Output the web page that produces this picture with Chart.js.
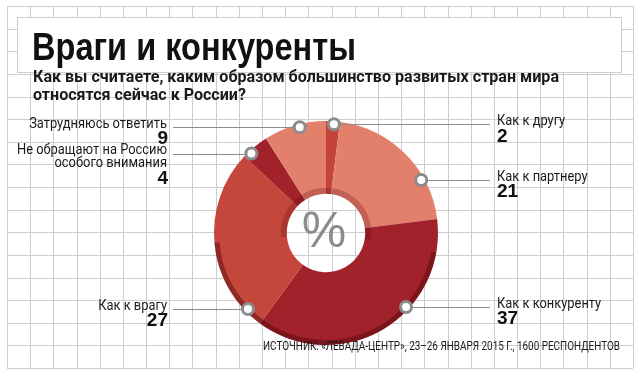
<!DOCTYPE html>
<html lang="ru">
<head>
<meta charset="utf-8">
<title>Враги и конкуренты</title>
<script src="https://cdn.jsdelivr.net/npm/chart.js@4.4.1/dist/chart.umd.min.js"></script>
<style>
  html, body { margin: 0; padding: 0; background: #fff; }
  #wrap { width: 640px; height: 374px; }
</style>
</head>
<body>
<div id="wrap"><canvas id="chart" width="640" height="374"></canvas></div>
<script>
(function () {
  'use strict';

  // ----------------------------------------------------------
  // Données (lecture du graphique, clockwise depuis 12h)
  // ----------------------------------------------------------
  const categories = [
    'Как к другу',
    'Как к партнеру',
    'Как к конкуренту',
    'Как к врагу',
    'Не обращают на Россию\nособого внимания',
    'Затрудняюсь ответить',
  ];
  const shares = [2, 21, 37, 27, 4, 9];

  const titleText    = 'Враги и конкуренты';
  const subtitleText = [
    'Как вы считаете, каким образом большинство развитых стран мира',
    'относятся сейчас к России?',
  ];
  const sourceText = 'ИСТОЧНИК: «ЛЕВАДА-ЦЕНТР», 23–26 ЯНВАРЯ 2015 Г., 1600 РЕСПОНДЕНТОВ';

  // ----------------------------------------------------------
  // Styles
  // ----------------------------------------------------------
  const sliceColors = ['#c4433a', '#e3806c', '#a2222b', '#c5473c', '#a2222b', '#e3806c'];
  const markerAt    = [0.58, 0.71, 0.375, 0.10, 0.25, 0.57]; // where the callout dot sits along each slice
  const GRAY        = '#8c8c8c';
  const GRID        = '#cdcdcd';

  // ----------------------------------------------------------
  // Texte condensé
  // ----------------------------------------------------------
  function fitScale(ctx, text, font, width) {
    ctx.save();
    ctx.font = font;
    const w = ctx.measureText(text).width;
    ctx.restore();
    return w ? width / w : 1;
  }

  function drawText(ctx, text, x, y, font, color, align, sx, baseline) {
    ctx.save();
    ctx.font         = font;
    ctx.fillStyle    = color;
    ctx.textAlign    = align;
    ctx.textBaseline = baseline || 'middle';
    ctx.translate(x, y);
    ctx.scale(sx, 1);
    ctx.fillText(text, 0, 0);
    ctx.restore();
  }

  // ----------------------------------------------------------
  // Papier quadrillé + cadre du titre
  // ----------------------------------------------------------
  const paper = {
    id: 'paper',
    beforeDraw(chart) {
      const ctx = chart.ctx;
      ctx.save();
      ctx.fillStyle = '#fff';
      ctx.fillRect(0, 0, chart.width, chart.height);

      const x0 = 7, x1 = 633, y0 = 6, y1 = 368;
      const cols = 27, rows = 16;
      ctx.strokeStyle = GRID;
      ctx.lineWidth   = 1;
      ctx.beginPath();
      for (let i = 0; i <= cols; i++) {
        const x = Math.round(x0 + i * (x1 - x0) / cols) + 0.5;
        ctx.moveTo(x, y0);
        ctx.lineTo(x, y1);
      }
      for (let j = 0; j <= rows; j++) {
        const y = Math.round(y0 + j * (y1 - y0) / rows) + 0.5;
        ctx.moveTo(x0, y);
        ctx.lineTo(x1, y);
      }
      ctx.stroke();

      // cadre blanc du titre
      ctx.fillStyle = '#fff';
      ctx.fillRect(17, 17, 604, 55);
      ctx.strokeStyle = GRID;
      ctx.strokeRect(17.5, 17.5, 604, 55);
      ctx.restore();
    },
    afterDraw(chart) {
      const ctx = chart.ctx;

      const tFont = 'bold 38px "Liberation Sans", Arial, sans-serif';
      drawText(ctx, titleText, 32, 60, tFont, '#111', 'left',
        fitScale(ctx, titleText, tFont, 324), 'alphabetic');

      const sFont = 'bold 16px Roboto, "Liberation Sans", sans-serif';
      const sScale = fitScale(ctx, subtitleText[0], sFont, 526);
      subtitleText.forEach((line, k) => {
        drawText(ctx, line, 33, 78 + k * 18, sFont, '#1a1a1a', 'left', sScale);
      });

      const fFont = '12px Roboto, "Liberation Sans", sans-serif';
      drawText(ctx, sourceText, 620, 347, fFont, '#1a1a1a', 'right',
        fitScale(ctx, sourceText, fFont, 357));
    },
  };

  // ----------------------------------------------------------
  // Relief, %, bulles et légendes
  // ----------------------------------------------------------
  const callouts = {
    id: 'callouts',
    afterDatasetsDraw(chart) {
      const ctx  = chart.ctx;
      const arcs = chart.getDatasetMeta(0).data;
      if (!arcs.length) return;

      const c  = arcs[0].getProps(['x', 'y', 'innerRadius', 'outerRadius'], true);
      const deg = Math.PI / 180;

      // relief : bord bas plus sombre + paroi intérieure
      ctx.save();
      ctx.lineWidth   = 5;
      ctx.strokeStyle = 'rgba(80, 5, 12, 0.45)';
      ctx.beginPath();
      ctx.arc(c.x, c.y, c.outerRadius - 2.5, 10 * deg, 175 * deg);
      ctx.stroke();
      ctx.lineWidth   = 6;
      ctx.strokeStyle = 'rgba(90, 5, 15, 0.25)';
      ctx.beginPath();
      ctx.arc(c.x, c.y, c.innerRadius + 3, 175 * deg, 370 * deg);
      ctx.stroke();
      ctx.restore();

      // signe % au centre
      drawText(ctx, '%', c.x - 2, c.y, '50px "Liberation Sans", Arial, sans-serif', GRAY, 'center', 1);

      const nameFont = '15px Roboto, "Liberation Sans", sans-serif';
      const numFont  = 'bold 19px "Liberation Sans", Arial, sans-serif';
      const nameScale = fitScale(ctx, 'Не обращают на Россию', nameFont, 150);

      arcs.forEach((arc, i) => {
        const p = arc.getProps(['x', 'y', 'startAngle', 'endAngle', 'outerRadius'], true);
        const a  = p.startAngle + markerAt[i] * (p.endAngle - p.startAngle);
        const mx = p.x + Math.cos(a) * (p.outerRadius - 3);
        const my = p.y + Math.sin(a) * (p.outerRadius - 3);
        const right = mx >= p.x;

        // trait de rappel
        ctx.save();
        ctx.strokeStyle = GRAY;
        ctx.lineWidth   = 1;
        ctx.beginPath();
        const ly = Math.round(my) + 0.5;
        ctx.moveTo(right ? mx : 173, ly);
        ctx.lineTo(right ? 490 : mx, ly);
        ctx.stroke();

        // pastille
        ctx.beginPath();
        ctx.arc(mx, my, 5.5, 0, 2 * Math.PI);
        ctx.fillStyle = '#fff';
        ctx.fill();
        ctx.lineWidth   = 3;
        ctx.strokeStyle = GRAY;
        ctx.stroke();
        ctx.restore();

        // libellé + valeur
        const lines = chart.data.labels[i].split('\n');
        const tx    = right ? 497 : 167;
        const align = right ? 'left' : 'right';
        let ty = my - 3;
        lines.forEach((line, k) => {
          drawText(ctx, line, tx, ty + k * 13, nameFont, '#1a1a1a', align, nameScale);
        });
        ty += (lines.length - 1) * 13 + 15;
        drawText(ctx, String(chart.data.datasets[0].data[i]), right ? 497 : 168, ty,
          numFont, '#111', align, 1);
      });
    },
  };

  // ----------------------------------------------------------
  // Graphique
  // ----------------------------------------------------------
  new Chart(document.getElementById('chart'), {
    type: 'doughnut',
    data: {
      labels: categories,
      datasets: [{
        data:            shares,
        backgroundColor: sliceColors,
        borderWidth:     0,
        hoverOffset:     0,
      }],
    },
    options: {
      responsive:       false,
      animation:        false,
      devicePixelRatio: 1,
      cutout:           '35%',
      rotation:         0,
      layout: {
        padding: { left: 214, right: 202, top: 121, bottom: 29 },
      },
      plugins: {
        legend:  { display: false },
        tooltip: { enabled: false },
      },
    },
    plugins: [paper, callouts],
  });
})();
</script>
</body>
</html>
